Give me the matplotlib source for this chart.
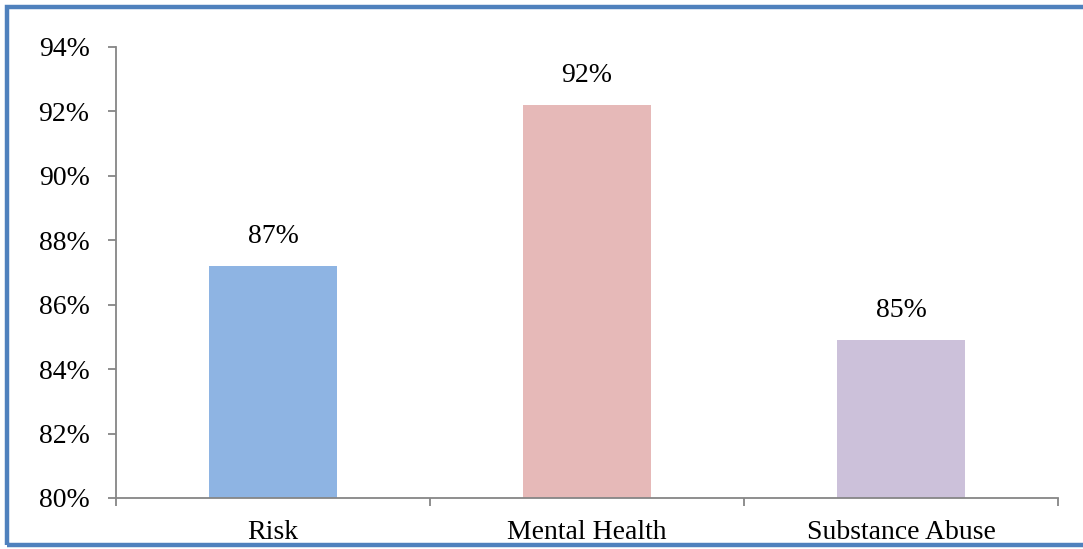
import matplotlib.pyplot as plt
from matplotlib.patches import Rectangle

categories = ["Risk", "Mental Health", "Substance Abuse"]
values = [87.2, 92.2, 84.9]
colors = ["#8EB4E3", "#E6B9B8", "#CCC1DA"]
yticks = [80, 82, 84, 86, 88, 90, 92, 94]

plt.rcParams['font.family'] = ['Liberation Serif', 'DejaVu Serif']
FS = 20

fig = plt.figure(figsize=(10.83, 5.49), dpi=100)
ax = fig.add_axes([116 / 1083, 51 / 549, (1058 - 116) / 1083, (498 - 47) / 549])

x = range(len(categories))
bars = ax.bar(x, values, width=0.41, color=colors, zorder=2)

for b, v in zip(bars, values):
    ax.annotate(f"{v:.0f}%", (b.get_x() + b.get_width() / 2, v),
                xytext=(0, 12), textcoords="offset points",
                ha="center", va="bottom", fontsize=FS)

ax.set_xlim(-0.5, len(categories) - 0.5)
ax.set_ylim(80, 94)
ax.set_yticks(yticks)
ax.set_yticklabels([f"{t}%" for t in yticks], fontsize=FS)
ax.set_xticks(list(x))
ax.set_xticklabels(categories, fontsize=FS)
ax.set_xticks([i - 0.5 for i in range(len(categories) + 1)], minor=True)

grey = "#868686"
for side in ["top", "right"]:
    ax.spines[side].set_visible(False)
for side in ["left", "bottom"]:
    ax.spines[side].set_color(grey)
    ax.spines[side].set_linewidth(1.3)
ax.tick_params(axis="x", which="major", length=0, pad=16)
ax.tick_params(axis="x", which="minor", length=6, color=grey, width=1.3, direction="out")
ax.tick_params(axis="y", length=6, color=grey, width=1.3, pad=13)

# blue frame around the chart area, open past the right edge
fig.patches.append(Rectangle((7 / 1083, 4 / 549), 2.0, 538 / 549, transform=fig.transFigure,
                             fill=False, edgecolor="#4F81BD", linewidth=3.2))

fig.savefig("out.png", dpi=100)
